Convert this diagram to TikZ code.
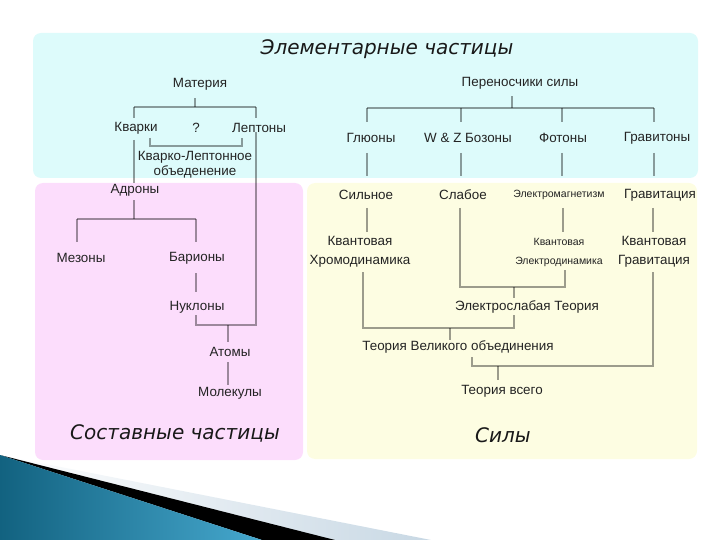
\documentclass[tikz,border=0pt]{standalone}
\usepackage{fontspec}
\setmainfont{Liberation Sans}
\newfontfamily\titlefont{DejaVu Sans}
\definecolor{cyanbg}{RGB}{221,251,251}
\definecolor{pinkbg}{RGB}{252,221,252}
\definecolor{yellowbg}{RGB}{253,253,226}
\definecolor{txt}{RGB}{35,35,35}
\definecolor{stripc}{RGB}{200,216,228}
\definecolor{tealdark}{RGB}{18,98,128}
\definecolor{teallight}{RGB}{70,168,206}
\begin{document}
\begin{tikzpicture}[x=1pt,y=-1pt,
  lbl/.style={font=\fontsize{13.4}{15}\selectfont, text=txt, inner sep=0pt, align=center},
  sml/.style={font=\fontsize{10.5}{19}\selectfont, text=txt, inner sep=0pt, align=center},
  ttl/.style={font=\titlefont\itshape\fontsize{20}{24}\selectfont, text=black!90, inner sep=0pt},
  ln/.style={draw=black, draw opacity=0.38, line width=1.3pt},
  panel/.style={rounded corners=8pt}]
\useasboundingbox (0,0) rectangle (720,540);
% panels
\fill[cyanbg, panel] (33,33) rectangle (698,178);
\fill[pinkbg, panel] (35,183) rectangle (303,460);
\fill[yellowbg, panel] (307,183) rectangle (697,459);
% bottom-left decoration
\shade[left color=white, right color=stripc] (0,455) -- (431,540) -- (262,540) -- cycle;
\fill[black] (0,455) -- (335,540) -- (262,540) -- cycle;
\shade[left color=tealdark, right color=teallight] (0,455) -- (262,540) -- (0,540) -- cycle;
% titles
\node[ttl] (title) at (387,49) {Элементарные частицы};
\node[ttl] (compos) at (175,433) {Составные частицы};
\node[ttl] (forces) at (503,435) {Силы};
% left tree
\node[lbl] (mat) at (200,84) {Материя};
\node[lbl] (quark) at (136,128) {Кварки};
\node[lbl] (qm) at (196,128) {?};
\node[lbl] (lep) at (259,128) {Лептоны};
\node[lbl, font=\fontsize{13.4}{15}\selectfont] (ql) at (195,165) {Кварко-Лептонное\\объеденение};
\node[lbl] (adr) at (135,190) {Адроны};
\node[lbl] (mez) at (81,258) {Мезоны};
\node[lbl] (bar) at (197,258) {Барионы};
\node[lbl] (nuk) at (197,307) {Нуклоны};
\node[lbl] (atom) at (230,352) {Атомы};
\node[lbl] (mol) at (230,393) {Молекулы};
% right tree
\node[lbl] (carr) at (520,83) {Переносчики силы};
\node[lbl] (glu) at (371,138) {Глюоны};
\node[lbl] (wz) at (468,138) {W \& Z Бозоны};
\node[lbl] (pho) at (563,138) {Фотоны};
\node[lbl] (grav) at (657,138) {Гравитоны};
\node[lbl] (strong) at (366,195) {Сильное};
\node[lbl] (weak) at (463,195) {Слабое};
\node[sml] (em) at (559,195) {Электромагнетизм};
\node[lbl] (gravi) at (660,195) {Гравитация};
\node[lbl, font=\fontsize{13.4}{19}\selectfont] (qcd) at (360,252) {Квантовая\\Хромодинамика};
\node[sml] (qed) at (559,252) {Квантовая\\Электродинамика};
\node[lbl, font=\fontsize{13.4}{19}\selectfont] (qg) at (654,252) {Квантовая\\Гравитация};
\node[lbl] (ew) at (527,307) {Электрослабая Теория};
\node[lbl] (gut) at (458,347) {Теория Великого объединения};
\node[lbl] (toe) at (502,391) {Теория всего};
% junction coordinates (left)
\coordinate (mJ) at (195,107);
\coordinate (mL) at (134,107);
\coordinate (mR) at (256,107);
\coordinate (qlL) at (150,146);
\coordinate (qlR) at (242,146);
\coordinate (aJ) at (134,219);
\coordinate (aL) at (77,219);
\coordinate (aR) at (196,219);
\coordinate (nL) at (196,325);
\coordinate (nR) at (256,325);
\coordinate (nJ) at (228,325);
% left connectors
\draw[ln] (mJ) -- ++(0,-9);
\draw[ln] (mL) -- (mR);
\draw[ln] (mL) -- ++(0,11);
\draw[ln] (mR) -- ++(0,11);
\draw[ln] (qlL) ++(0,-8) -- (qlL) -- (qlR) -- ++(0,-8);
\draw[ln] (134,140) -- (134,183);
\draw[ln] (aJ) -- ++(0,-19);
\draw[ln] (aL) -- (aR);
\draw[ln] (aL) -- ++(0,23);
\draw[ln] (aR) -- ++(0,23);
\draw[ln] (196,273) -- (196,292);
\draw[ln] (nL) ++(0,-10) -- (nL) -- (nR) -- (256,132);
\draw[ln] (nJ) -- ++(0,17);
\draw[ln] (228,362) -- (228,385);
% junction coordinates (right)
\coordinate (cJ) at (512,108);
\coordinate (cL) at (367,108);
\coordinate (cR) at (654,108);
\coordinate (wL) at (460,287);
\coordinate (wR) at (565,287);
\coordinate (wJ) at (514,287);
\coordinate (gL) at (363,328);
\coordinate (gR) at (514,328);
\coordinate (gJ) at (450,328);
\coordinate (tL) at (472,366);
\coordinate (tR) at (653,366);
\coordinate (tJ) at (498,366);
% right connectors
\draw[ln] (cJ) -- ++(0,-12);
\draw[ln] (cL) -- (cR);
\foreach \xx in {367,461,562,654} {
  \draw[ln] (\xx,108) -- (\xx,122);
  \draw[ln] (\xx,153) -- (\xx,176);
}
\draw[ln] (367,208) -- (367,232);
\draw[ln] (563,208) -- (563,232);
\draw[ln] (653,208) -- (653,232);
\draw[ln] (460,208) -- (wL) -- (wR) -- ++(0,-17);
\draw[ln] (wJ) -- ++(0,11);
\draw[ln] (514,315) -- (gR) -- (gL) -- (363,272);
\draw[ln] (gJ) -- ++(0,12);
\draw[ln] (653,272) -- (tR) -- (tL) -- ++(0,-9);
\draw[ln] (tJ) -- ++(0,14);
\end{tikzpicture}
\end{document}
